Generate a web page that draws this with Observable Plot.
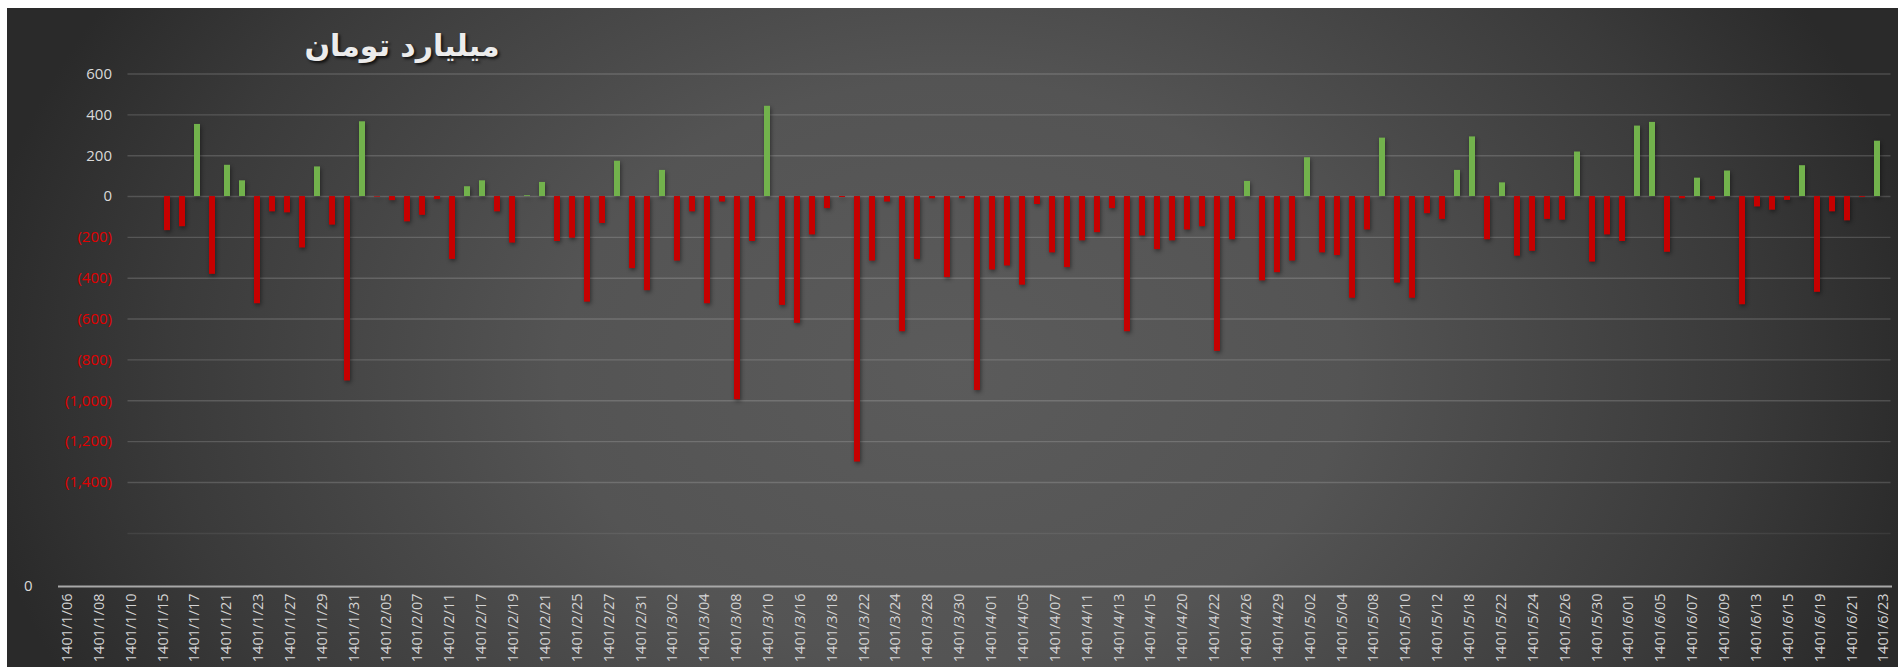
<!DOCTYPE html>
<html><head><meta charset="utf-8">
<script src="https://cdn.jsdelivr.net/npm/d3@7"></script>
<script src="https://cdn.jsdelivr.net/npm/@observablehq/plot@0.6"></script>
<style>
html,body{margin:0;padding:0;background:#fff;width:1898px;height:667px;overflow:hidden;}
#chart{position:absolute;left:7px;top:8px;width:1891px;height:659px;overflow:hidden;
  background: radial-gradient(ellipse 52% 110% at 50% 55%, #5b5b5b 0%, #545454 40%, #3a3a3a 80%, #2a2a2a 100%);}
#title{position:absolute;left:280px;top:20px;width:230px;text-align:center;direction:rtl;white-space:nowrap;
  font:bold 30px "DejaVu Sans";color:#ececec;text-shadow:2px 2px 3px rgba(0,0,0,0.75);}
#top,#bottom{position:absolute;left:0;}
#top{top:0}
#bottom{top:560px}
</style></head><body>
<div id="chart"><div id="title">میلیارد تومان</div><div id="top"></div><div id="bottom"></div></div>
<script>
const tickLabels = ["1401/1/06","1401/1/08","1401/1/10","1401/1/15","1401/1/17","1401/1/21","1401/1/23","1401/1/27","1401/1/29","1401/1/31",
"1401/2/05","1401/2/07","1401/2/11","1401/2/17","1401/2/19","1401/2/21","1401/2/25","1401/2/27","1401/2/31",
"1401/3/02","1401/3/04","1401/3/08","1401/3/10","1401/3/16","1401/3/18","1401/3/22","1401/3/24","1401/3/28","1401/3/30",
"1401/4/01","1401/4/05","1401/4/07","1401/4/11","1401/4/13","1401/4/15","1401/4/20","1401/4/22","1401/4/26","1401/4/29",
"1401/5/02","1401/5/04","1401/5/08","1401/5/10","1401/5/12","1401/5/18","1401/5/22","1401/5/24","1401/5/26","1401/5/30",
"1401/6/01","1401/6/05","1401/6/07","1401/6/09","1401/6/13","1401/6/15","1401/6/19","1401/6/21","1401/6/23"];

const values = [-167,-148,353,-381,153,77,-525,-75,-80,-252,
145,-140,-903,366,-3,-20,-124,-92,-15,-308,
48,77,-75,-228,4,69,-220,-204,-517,-132,
173,-353,-461,128,-316,-75,-525,-27,-995,-220,
442,-533,-621,-188,-59,-5,-1300,-316,-27,-662,
-308,-11,-397,-11,-950,-360,-340,-434,-39,-276,
-348,-217,-177,-59,-662,-193,-260,-217,-164,-148,
-758,-212,74,-413,-373,-316,190,-276,-289,-498,
-164,286,-424,-498,-84,-112,128,292,-212,67,
-292,-268,-112,-116,218,-321,-188,-220,345,363,
-273,-11,90,-16,125,-530,-51,-67,-19,151,
-469,-75,-119,-4,271];

const yTicksPos = [0,200,400,600];
const yTicksNeg = [-200,-400,-600,-800,-1000,-1200,-1400];
const plotFloor = -1650;

const greenColor = "#72b24c";
const redColor = "#c60000";

const slots = values.map((v,i) => i);
const rows = values.map((v,i) => ({i, v}));
const labelSlots = slots.filter(i => i % 2 === 0);
const fmt = d => d < 0 ? "(" + d3.format(",")(-d) + ")" : d3.format(",")(d);

const topPlot = Plot.plot({
  width: 1891, height: 560,
  marginLeft: 146.5, marginRight: 7.5, marginTop: 65.5, marginBottom: 35,
  x: {type: "band", domain: slots, padding: 0.6, axis: null},
  y: {domain: [plotFloor, 600], axis: null},
  style: {background: "transparent", fontFamily: "'Open Sans', sans-serif", fontSize: "15px", overflow: "visible"},
  marks: [
    Plot.ruleY(yTicksPos.concat(yTicksNeg), {stroke: "#ffffff", strokeOpacity: 0.16, strokeWidth: 1.4, insetLeft: -26}),
    Plot.ruleY([plotFloor], {stroke: "#ffffff", strokeOpacity: 0.07, strokeWidth: 1.4, insetLeft: -26}),
    Plot.barY(rows.filter(d => d.v >= 0), {x: "i", y: "v", fill: greenColor}),
    Plot.barY(rows.filter(d => d.v < 0), {x: "i", y: "v", fill: redColor}),
    Plot.axisY(yTicksPos, {tickSize: 0, tickPadding: 42, tickFormat: fmt, fill: "#d9d9d9", fontSize: 15, label: null}),
    Plot.axisY(yTicksNeg, {tickSize: 0, tickPadding: 42, tickFormat: fmt, fill: "#e00000", fontSize: 15, label: null})
  ]
});
topPlot.querySelectorAll('g[aria-label="bar"]').forEach(g => g.style.filter = "drop-shadow(1px 2px 2px rgba(0,0,0,0.45))");
document.getElementById("top").appendChild(topPlot);

const bottomPlot = Plot.plot({
  width: 1891, height: 99,
  marginLeft: 51, marginRight: 6, marginTop: 0, marginBottom: 81,
  x: {type: "band", domain: slots, axis: null},
  y: {domain: [0, 1], axis: null},
  style: {background: "transparent", fontFamily: "'Open Sans', sans-serif", fontSize: "14px", overflow: "visible"},
  marks: [
    Plot.ruleY([0], {stroke: "#a8a8a8", strokeWidth: 2}),
    Plot.axisX(labelSlots, {tickSize: 0, tickPadding: 7, tickRotate: -90, tickFormat: i => tickLabels[i / 2], fill: "#d4d4d4", fontSize: 14.5, label: null}),
    Plot.axisY([0], {tickSize: 0, tickPadding: 26, fill: "#d9d9d9", fontSize: 15, label: null})
  ]
});
document.getElementById("bottom").appendChild(bottomPlot);
</script>
</body></html>
